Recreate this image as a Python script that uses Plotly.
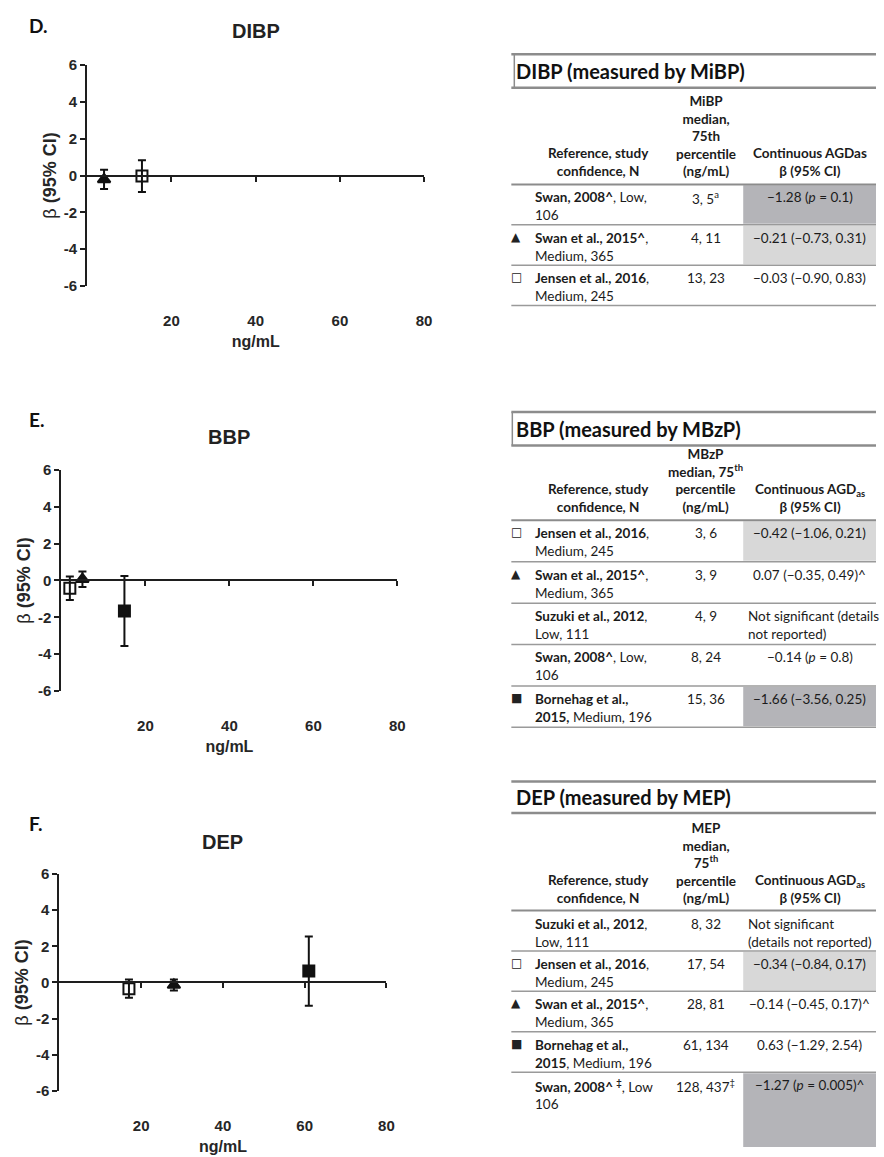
import plotly.graph_objects as go

W, H = 884, 1157

# ---------------- data : panels (x = median ng/mL as plotted, beta and 95% CI) ----------------
d_x = [4, 13]
d_beta = [-0.21, -0.03]
d_lo = [-0.73, -0.90]
d_hi = [0.31, 0.83]
d_symbol = ["triangle-up", "square-open"]

e_x = [2, 5, 15]
e_beta = [-0.42, 0.07, -1.66]
e_lo = [-1.06, -0.35, -3.56]
e_hi = [0.21, 0.49, 0.25]
e_symbol = ["square-open", "triangle-up", "square"]

f_x = [17, 28, 61]
f_beta = [-0.34, -0.14, 0.63]
f_lo = [-0.84, -0.45, -1.29]
f_hi = [0.17, 0.17, 2.54]
f_symbol = ["square-open", "triangle-up", "square"]

x_ticks = [20, 40, 60, 80]
y_ticks = [-6, -4, -2, 0, 2, 4, 6]
y_ticktext = ["-6", "-4", "-2", "0", "2", "4", "6"]
panel_titles = ["DIBP", "BBP", "DEP"]
panel_letters = ["D.", "E.", "F."]

# ---------------- data : tables ----------------
d_table_title = "DIBP (measured by MiBP)"
d_head = ["Reference, study<br>confidence, N",
          "MiBP<br>median,<br>75th<br>percentile<br>(ng/mL)",
          "Continuous AGDas<br>β (95% CI)"]
d_marks = ["", "▲", "□"]
d_refs = ["<b>Swan, 2008^</b>, Low,<br>106",
          "<b>Swan et al., 2015^</b>,<br>Medium, 365",
          "<b>Jensen et al., 2016</b>,<br>Medium, 245"]
d_medians = ["3, 5<sup>a</sup>", "4, 11", "13, 23"]
d_results = ["−1.28 (<i>p</i> = 0.1)", "−0.21 (−0.73, 0.31)", "−0.03 (−0.90, 0.83)"]
d_shade = ["dark", "light", ""]

e_table_title = "BBP (measured by MBzP)"
e_head = ["Reference, study<br>confidence, N",
          "MBzP<br>median, 75<sup>th</sup><br>percentile<br>(ng/mL)",
          "Continuous AGD<sub>as</sub><br>β (95% CI)"]
e_marks = ["□", "▲", "", "", "■"]
e_refs = ["<b>Jensen et al., 2016</b>,<br>Medium, 245",
          "<b>Swan et al., 2015^</b>,<br>Medium, 365",
          "<b>Suzuki et al., 2012</b>,<br>Low, 111",
          "<b>Swan, 2008^</b>, Low,<br>106",
          "<b>Bornehag et al.,<br>2015,</b> Medium, 196"]
e_medians = ["3, 6", "3, 9", "4, 9", "8, 24", "15, 36"]
e_results = ["−0.42 (−1.06, 0.21)", "0.07 (−0.35, 0.49)^",
             "Not significant (details<br>not reported)", "−0.14 (<i>p</i> = 0.8)",
             "−1.66 (−3.56, 0.25)"]
e_shade = ["light", "", "", "", "dark"]

f_table_title = "DEP (measured by MEP)"
f_head = ["Reference, study<br>confidence, N",
          "MEP<br>median,<br>75<sup>th</sup><br>percentile<br>(ng/mL)",
          "Continuous AGD<sub>as</sub><br>β (95% CI)"]
f_marks = ["", "□", "▲", "■", ""]
f_refs = ["<b>Suzuki et al., 2012</b>,<br>Low, 111",
          "<b>Jensen et al., 2016</b>,<br>Medium, 245",
          "<b>Swan et al., 2015^</b>,<br>Medium, 365",
          "<b>Bornehag et al.,</b><br><b>2015</b>, Medium, 196",
          "<b>Swan, 2008^ <sup>‡</sup></b>, Low<br>106"]
f_medians = ["8, 32", "17, 54", "28, 81", "61, 134", "128, 437<sup>‡</sup>"]
f_results = ["Not significant<br>(details not reported)", "−0.34 (−0.84, 0.17)",
             "−0.14 (−0.45, 0.17)^", "0.63 (−1.29, 2.54)", "−1.27 (<i>p</i> = 0.005)^"]
f_shade = ["", "light", "", "", "dark"]

# ---------------- layout geometry (pixels) ----------------
def px(x):
    return x / W

def py(y):
    return 1 - y / H

AX = "#1e1e1e"
PLOT_FONT = "Liberation Sans, Arial, sans-serif"
TAB_FONT = "Lato, Open Sans, sans-serif"

panels = [
    dict(xs=d_x, b=d_beta, lo=d_lo, hi=d_hi, sym=d_symbol, dx=(88, 428), dy=(57, 281), zero=169, ty=22, ly=17),
    dict(xs=e_x, b=e_beta, lo=e_lo, hi=e_hi, sym=e_symbol, dx=(62, 401), dy=(468, 692), zero=580, ty=434, ly=417),
    dict(xs=f_x, b=f_beta, lo=f_lo, hi=f_hi, sym=f_symbol, dx=(60, 390), dy=(878, 1098), zero=988, ty=845, ly=827),
]

fig = go.Figure()
layout_axes = {}
annotations = []
shapes = []

for i, p in enumerate(panels, start=1):
    xa = "x" if i == 1 else f"x{i}"
    ya = "y" if i == 1 else f"y{i}"
    ov = f"x{i + 3}"
    fig.add_trace(go.Scatter(
        x=p["xs"], y=p["b"], mode="markers", xaxis=xa, yaxis=ya, showlegend=False,
        marker=dict(symbol=p["sym"], size=11, color="#111", line=dict(width=2, color="#111")),
        error_y=dict(type="data", symmetric=False,
                     array=[h - b for h, b in zip(p["hi"], p["b"])],
                     arrayminus=[b - l for b, l in zip(p["b"], p["lo"])],
                     thickness=2, width=4, color="#111"),
    ))
    fig.add_trace(go.Scatter(x=[], y=[], xaxis=ov, yaxis=ya, showlegend=False, hoverinfo="skip"))

    tickfont = dict(family=PLOT_FONT, size=15, color="#262626", weight="bold")
    layout_axes["xaxis" if i == 1 else f"xaxis{i}"] = dict(
        domain=[px(p["dx"][0]), px(p["dx"][1])], anchor=ya, range=[0, 80],
        tickvals=x_ticks, ticks="outside", ticklen=21, tickcolor="rgba(0,0,0,0)",
        showline=False, showgrid=False, zeroline=False, tickfont=tickfont,
        title=dict(text="ng/mL", standoff=7,
                   font=dict(family=PLOT_FONT, size=16, color="#262626", weight="bold")),
    )
    layout_axes["yaxis" if i == 1 else f"yaxis{i}"] = dict(
        domain=[py(p["dy"][1]), py(p["dy"][0])], anchor=xa, range=[-6, 6],
        tickvals=y_ticks, ticktext=y_ticktext, ticks="outside", ticklen=5, tickwidth=2,
        tickcolor=AX, showline=True, linewidth=2, linecolor=AX,
        showgrid=False, zeroline=False, tickfont=tickfont,
        title=dict(text="β <b>(95% CI)</b>", standoff=3,
                   font=dict(family=PLOT_FONT, size=18, color="#262626")),
    )
    layout_axes[f"xaxis{i + 3}"] = dict(
        overlaying=xa, anchor="free", position=py(p["zero"]), range=[0, 80],
        tickvals=x_ticks, ticks="outside", ticklen=5, tickwidth=2, tickcolor=AX,
        showline=True, linewidth=2, linecolor=AX, showticklabels=False,
        showgrid=False, zeroline=False,
    )
    annotations.append(dict(text=f"<b>{panel_titles[i-1]}</b>", x=px((p["dx"][0] + p["dx"][1]) / 2),
                            y=py(p["ty"]), xref="paper", yref="paper", showarrow=False,
                            xanchor="center", yanchor="middle",
                            font=dict(family=PLOT_FONT, size=20, color="#222")))
    annotations.append(dict(text=f"<b>{panel_letters[i-1]}</b>", x=px(27), y=py(p["ly"]),
                            xref="paper", yref="paper", showarrow=False,
                            xanchor="left", yanchor="middle",
                            font=dict(family=TAB_FONT, size=19, color="#111")))

# ---------------- tables ----------------
tables = [
    dict(title=d_table_title, head=d_head, marks=d_marks, refs=d_refs, med=d_medians, res=d_results,
         shade=d_shade, top=46, tline=80, tcy=63, bounds=[178, 219, 260, 301], last_line=True, vline=519),
    dict(title=e_table_title, head=e_head, marks=e_marks, refs=e_refs, med=e_medians, res=e_results,
         shade=e_shade, top=409, tline=443, tcy=426, bounds=[519, 561, 603, 645, 687, 729], last_line=True, vline=517),
    dict(title=f_table_title, head=f_head, marks=f_marks, refs=f_refs, med=f_medians, res=f_results,
         shade=f_shade, top=784, tline=816, tcy=800, bounds=[915, 956, 997, 1038, 1079, 1156], last_line=False, vline=None),
]

XL, XR = 516, 884
C_MARK, C_REF, C_MED, C_RES, C_RES_L, C_SHADE = 521, 538, 712, 817, 753, 750
SHADES = {"dark": "#b4b4b8", "light": "#d8d8d8"}
LINE_THICK = dict(color="#8c8c8c", width=2.5)
LINE_ROW = dict(color="#9a9a9a", width=1.5)
tfont = dict(family=TAB_FONT, size=13.5, color="#1b1b1b")

def hline(y, line):
    shapes.append(dict(type="line", xref="paper", yref="paper", x0=px(XL), x1=px(XR),
                       y0=py(y), y1=py(y), line=line, layer="above"))

for t in tables:
    b = t["bounds"]
    for k, s in enumerate(t["shade"]):
        if s:
            shapes.append(dict(type="rect", xref="paper", yref="paper", x0=px(C_SHADE), x1=px(XR),
                               y0=py(b[k + 1] - 1), y1=py(b[k] + 1),
                               fillcolor=SHADES[s], line=dict(width=0), layer="below"))
    hline(t["top"], LINE_THICK)
    hline(t["tline"], LINE_THICK)
    hline(b[0], dict(color="#8c8c8c", width=2))
    for k in range(1, len(b) - 1):
        hline(b[k], LINE_ROW)
    if t["last_line"]:
        hline(b[-1], LINE_ROW)
    if t["vline"]:
        shapes.append(dict(type="line", xref="paper", yref="paper", x0=px(t["vline"]), x1=px(t["vline"]),
                           y0=py(t["top"]), y1=py(t["tline"]), line=dict(color="#8c8c8c", width=1.5)))
    annotations.append(dict(text=f"<b>{t['title']}</b>", x=px(XL + 3), y=py(t["tcy"]),
                            xref="paper", yref="paper", showarrow=False, xanchor="left", yanchor="middle",
                            font=dict(family=TAB_FONT, size=20, color="#111")))
    for text, cx in zip(t["head"], [604, C_MED, C_RES]):
        annotations.append(dict(text=f"<b>{text}</b>", x=px(cx), y=py(b[0] - 3),
                                xref="paper", yref="paper", showarrow=False, xanchor="center",
                                yanchor="bottom", align="center", font=tfont))
    for k in range(len(t["refs"])):
        ytop = py(b[k] + 3)
        if t["marks"][k]:
            annotations.append(dict(text=t["marks"][k], x=px(C_MARK), y=ytop, xref="paper", yref="paper",
                                    showarrow=False, xanchor="center", yanchor="top",
                                    font=dict(family="DejaVu Sans", size=12, color="#222")))
        annotations.append(dict(text=t["refs"][k], x=px(C_REF), y=ytop, xref="paper", yref="paper",
                                showarrow=False, xanchor="left", yanchor="top", align="left", font=tfont))
        annotations.append(dict(text=t["med"][k], x=px(C_MED), y=ytop, xref="paper", yref="paper",
                                showarrow=False, xanchor="center", yanchor="top", align="center", font=tfont))
        res = t["res"][k]
        if res.startswith("Not significant"):
            annotations.append(dict(text=res, x=px(C_RES_L), y=ytop, xref="paper", yref="paper",
                                    showarrow=False, xanchor="left", yanchor="top", align="left", font=tfont))
        else:
            annotations.append(dict(text=res, x=px(C_RES), y=ytop, xref="paper", yref="paper",
                                    showarrow=False, xanchor="center", yanchor="top", align="center", font=tfont))

fig.update_layout(
    width=W, height=H, autosize=False,
    margin=dict(l=0, r=0, t=0, b=0, pad=0),
    paper_bgcolor="white", plot_bgcolor="white",
    showlegend=False,
    annotations=annotations, shapes=shapes,
    **layout_axes,
)

fig.write_html("out.html", config={"displayModeBar": False},
               post_script="document.body.style.margin='0px';")
